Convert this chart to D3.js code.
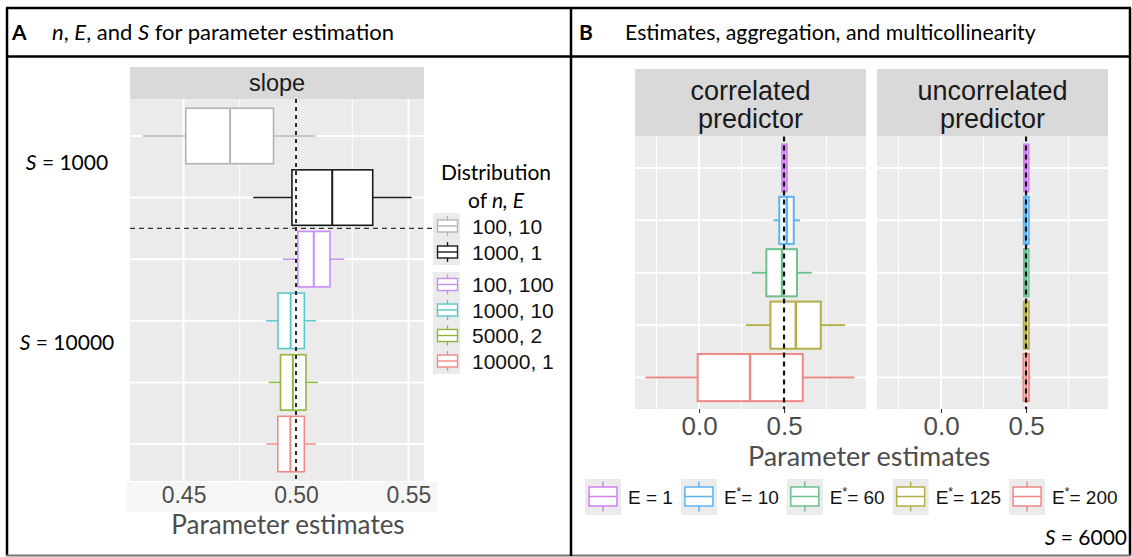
<!DOCTYPE html>
<html>
<head>
<meta charset="utf-8">
<script src="https://cdn.jsdelivr.net/npm/d3@7"></script>
<style>
  body { margin: 0; background: #fff; }
  svg { display: block; }
</style>
</head>
<body>
<svg id="fig" width="1132" height="557"></svg>
<script>
// ---- panel A: slope estimates by distribution of n, E ----
const catsA = ["100, 10", "1000, 1", "100, 100", "1000, 10", "5000, 2", "10000, 1"];
const colorsA = ["#b4b4b4", "#1a1a1a", "#c98cf6", "#5cc5cc", "#8db83c", "#ef8c85"];
const lowA  = [0.432, 0.481, 0.4942, 0.4867, 0.4879, 0.4868];
const q1A   = [0.451, 0.4982, 0.5008, 0.4920, 0.4931, 0.4919];
const medA  = [0.4707, 0.5161, 0.5079, 0.4976, 0.4986, 0.4975];
const q3A   = [0.490, 0.5341, 0.5151, 0.5037, 0.5044, 0.5037];
const highA = [0.5088, 0.5514, 0.5214, 0.5090, 0.5097, 0.5088];
const ticksA = [0.45, 0.50, 0.55];
const minorA = [0.475, 0.525];

// ---- panel B: estimates for correlated / uncorrelated predictor ----
const catsB = ["1", "10", "60", "125", "200"];   // E values
const colorsB = ["#d27ff2", "#5cb3ef", "#6fc08e", "#b3ae48", "#ec8983"];
const corrLow  = [0.485, 0.437, 0.310, 0.275, -0.314];
const corrQ1   = [0.489, 0.472, 0.396, 0.420, -0.008];
const corrMed  = [0.502, 0.516, 0.488, 0.569, 0.300];
const corrQ3   = [0.516, 0.557, 0.576, 0.716, 0.610];
const corrHigh = [0.522, 0.594, 0.663, 0.859, 0.914];
const uncLow   = [0.482, 0.480, 0.481, 0.480, 0.474];
const uncQ1    = [0.488, 0.487, 0.488, 0.487, 0.485];
const uncMed   = [0.501, 0.500, 0.500, 0.500, 0.500];
const uncQ3    = [0.515, 0.516, 0.515, 0.516, 0.517];
const uncHigh  = [0.521, 0.522, 0.521, 0.522, 0.527];
const ticksB = [0.0, 0.5];
const minorB = [-0.25, 0.25, 0.75];

const svg = d3.select("#fig");
const RSANS = "'Liberation Sans', Arial, sans-serif";
const CAL = "Lato, 'Open Sans', sans-serif";

svg.append("rect").attr("width", 1132).attr("height", 557).attr("fill", "#fff");

function rows(low, q1, med, q3, high, colors) {
  return low.map((d, i) => ({ i, lo: d, q1: q1[i], med: med[i], q3: q3[i], hi: high[i], col: colors[i] }));
}

function panel(g, x, y, box, data, minor, major, sw, dash) {
  const [x0, x1] = x.range();
  const [y0, y1] = y.range();
  g.append("rect").attr("x", x0).attr("y", y0).attr("width", x1 - x0).attr("height", y1 - y0).attr("fill", "#ebebeb");
  g.selectAll(".gmin").data(minor).join("line")
    .attr("x1", d => x(d)).attr("x2", d => x(d)).attr("y1", y0).attr("y2", y1)
    .attr("stroke", "#fff").attr("stroke-width", 1);
  g.selectAll(".gmaj").data(major).join("line")
    .attr("x1", d => x(d)).attr("x2", d => x(d)).attr("y1", y0).attr("y2", y1)
    .attr("stroke", "#fff").attr("stroke-width", 2);
  g.selectAll(".gh").data(data).join("line")
    .attr("x1", x0).attr("x2", x1).attr("y1", d => box.cy(d.i)).attr("y2", d => box.cy(d.i))
    .attr("stroke", "#fff").attr("stroke-width", 2);

  const b = g.selectAll(".box").data(data).join("g");
  b.append("line").attr("x1", d => x(d.lo)).attr("x2", d => x(d.q1))
    .attr("y1", d => box.cy(d.i)).attr("y2", d => box.cy(d.i))
    .attr("stroke", d => d.col).attr("stroke-width", sw);
  b.append("line").attr("x1", d => x(d.q3)).attr("x2", d => x(d.hi))
    .attr("y1", d => box.cy(d.i)).attr("y2", d => box.cy(d.i))
    .attr("stroke", d => d.col).attr("stroke-width", sw);
  b.append("rect").attr("x", d => x(d.q1)).attr("width", d => x(d.q3) - x(d.q1))
    .attr("y", d => box.cy(d.i) - box.h / 2).attr("height", box.h)
    .attr("fill", "#fff").attr("stroke", d => d.col).attr("stroke-width", sw + 0.1);
  b.append("line").attr("x1", d => x(d.med)).attr("x2", d => x(d.med))
    .attr("y1", d => box.cy(d.i) - box.h / 2).attr("y2", d => box.cy(d.i) + box.h / 2)
    .attr("stroke", d => d.col).attr("stroke-width", sw + 0.5);

  g.append("line").attr("x1", x(0.5)).attr("x2", x(0.5)).attr("y1", y0).attr("y2", y1)
    .attr("stroke", "#111").attr("stroke-width", dash[0]).attr("stroke-dasharray", dash[1]);
}

// ---------------- frame ----------------
const frame = svg.append("g").attr("stroke", "#000").attr("fill", "none");
frame.append("line").attr("x1", 6).attr("x2", 1131).attr("y1", 8).attr("y2", 8).attr("stroke-width", 2.5);
frame.append("line").attr("x1", 7).attr("x2", 7).attr("y1", 8).attr("y2", 556).attr("stroke-width", 2.5);
frame.append("line").attr("x1", 1130).attr("x2", 1130).attr("y1", 8).attr("y2", 556).attr("stroke-width", 2.5);
frame.append("line").attr("x1", 6).attr("x2", 1131).attr("y1", 555.5).attr("y2", 555.5).attr("stroke", "#777").attr("stroke-width", 2);
frame.append("line").attr("x1", 6).attr("x2", 1131).attr("y1", 56.5).attr("y2", 56.5).attr("stroke-width", 2.5);
frame.append("line").attr("x1", 571).attr("x2", 571).attr("y1", 8).attr("y2", 556).attr("stroke-width", 2.5);

// headers
svg.append("text").attr("x", 12).attr("y", 40).attr("font-family", CAL).attr("font-size", 21)
  .attr("font-weight", "bold").text("A");
const tA = svg.append("text").attr("x", 52).attr("y", 40).attr("font-family", CAL).attr("font-size", 22).attr("fill", "#000");
tA.append("tspan").attr("font-style", "italic").text("n");
tA.append("tspan").text(", ");
tA.append("tspan").attr("font-style", "italic").text("E");
tA.append("tspan").text(", and ");
tA.append("tspan").attr("font-style", "italic").text("S");
tA.append("tspan").text(" for parameter estimation");

svg.append("text").attr("x", 579).attr("y", 40).attr("font-family", CAL).attr("font-size", 21)
  .attr("font-weight", "bold").text("B");
svg.append("text").attr("x", 625).attr("y", 40).attr("font-family", CAL).attr("font-size", 21.3)
  .text("Estimates, aggregation, and multicollinearity");

// ---------------- panel A ----------------
const xA = d3.scaleLinear().domain([0.4262, 0.5569]).range([130, 424]);
const yA = d3.scalePoint().domain(d3.range(catsA.length)).range([99, 481]).padding(0.6);
const gA = svg.append("g");

// faint axis band under panel A
gA.append("rect").attr("x", 126).attr("y", 482).attr("width", 311).attr("height", 30).attr("fill", "#f6f6f6");
// strip
gA.append("rect").attr("x", 130).attr("y", 67).attr("width", 294).attr("height", 32).attr("fill", "#d9d9d9");
gA.append("text").attr("x", 277).attr("y", 91).attr("text-anchor", "middle")
  .attr("font-family", RSANS).attr("font-size", 23.5).attr("fill", "#1a1a1a").text("slope");

panel(gA, xA, yA, { cy: i => yA(i), h: 0.9 * yA.step() },
  rows(lowA, q1A, medA, q3A, highA, colorsA), minorA, ticksA, 1.5, [1.8, "4,4"]);

// separator between S = 1000 and S = 10000
const sepY = (yA(1) + yA(2)) / 2;
gA.append("line").attr("x1", 130).attr("x2", 432).attr("y1", sepY).attr("y2", sepY)
  .attr("stroke", "#333").attr("stroke-width", 1.4).attr("stroke-dasharray", "5,4");

const axA = gA.append("g").attr("transform", "translate(0,481)")
  .call(d3.axisBottom(xA).tickValues(ticksA).tickFormat(d3.format(".2f")).tickSize(0).tickPadding(6));
axA.select(".domain").remove();
axA.selectAll("text").attr("font-family", RSANS).attr("font-size", 23).attr("fill", "#4d4d4d");

gA.append("text").attr("x", 288).attr("y", 534).attr("text-anchor", "middle")
  .attr("font-family", CAL).attr("font-size", 26).attr("fill", "#4d4d4d").text("Parameter estimates");

// S labels
[["1000", 169.5], ["10000", 349.5]].forEach(([s, yy]) => {
  const t = svg.append("text").attr("x", 67).attr("y", yy).attr("text-anchor", "middle")
    .attr("font-family", CAL).attr("font-size", 21).attr("fill", "#000");
  t.append("tspan").attr("font-style", "italic").text("S");
  t.append("tspan").text(" = " + s);
});

// legend A
const lgA = svg.append("g");
lgA.append("text").attr("x", 496).attr("y", 179.5).attr("text-anchor", "middle")
  .attr("font-family", CAL).attr("font-size", 21).text("Distribution");
const ofT = lgA.append("text").attr("x", 496).attr("y", 207.5).attr("text-anchor", "middle")
  .attr("font-family", CAL).attr("font-size", 21);
ofT.append("tspan").text("of ");
ofT.append("tspan").attr("font-style", "italic").text("n, E");

const keyRowsA = [226, 252, 284.5, 310, 335.5, 361];
lgA.append("rect").attr("x", 433).attr("y", 213).attr("width", 27).attr("height", 52).attr("fill", "#ebebeb");
lgA.append("rect").attr("x", 433).attr("y", 272).attr("width", 27).attr("height", 102).attr("fill", "#ebebeb");
const kA = lgA.selectAll(".k").data(catsA).join("g")
  .attr("transform", (d, i) => `translate(447.5,${keyRowsA[i]})`);
kA.append("line").attr("y1", -10).attr("y2", 10).attr("stroke", (d, i) => colorsA[i]).attr("stroke-width", 1.4);
kA.append("rect").attr("x", -10).attr("y", -6).attr("width", 20).attr("height", 12)
  .attr("fill", "#fff").attr("stroke", (d, i) => colorsA[i]).attr("stroke-width", 1.4);
kA.append("line").attr("x1", -10).attr("x2", 10).attr("stroke", (d, i) => colorsA[i]).attr("stroke-width", 1.4);
kA.append("text").attr("x", 24.5).attr("y", 7.5).attr("font-family", RSANS).attr("font-size", 21)
  .attr("fill", "#111").text(d => d);

// ---------------- panel B ----------------
const facets = [
  { name: ["correlated", "predictor"], x0: 635, data: rows(corrLow, corrQ1, corrMed, corrQ3, corrHigh, colorsB) },
  { name: ["uncorrelated", "predictor"], x0: 877, data: rows(uncLow, uncQ1, uncMed, uncQ3, uncHigh, colorsB) }
];
const yB = d3.scalePoint().domain(d3.range(catsB.length)).range([136.5, 409]).padding(0.6);

facets.forEach(f => {
  const x = d3.scaleLinear().domain([-0.3765, 0.982]).range([f.x0, f.x0 + 231]);
  const g = svg.append("g");
  g.append("rect").attr("x", f.x0).attr("y", 69).attr("width", 231).attr("height", 67.5).attr("fill", "#d9d9d9");
  g.append("text").attr("x", f.x0 + 115.5).attr("y", 99.5).attr("text-anchor", "middle")
    .attr("font-family", RSANS).attr("font-size", 27).attr("fill", "#1a1a1a").text(f.name[0]);
  g.append("text").attr("x", f.x0 + 115.5).attr("y", 127.5).attr("text-anchor", "middle")
    .attr("font-family", RSANS).attr("font-size", 27).attr("fill", "#1a1a1a").text(f.name[1]);

  panel(g, x, yB, { cy: i => yB(i), h: 0.9 * yB.step() }, f.data, minorB, ticksB, 1.9, [2.2, "5,4"]);

  const ax = g.append("g").attr("transform", "translate(0,409)")
    .call(d3.axisBottom(x).tickValues(ticksB).tickFormat(d3.format(".1f")).tickSize(4).tickPadding(4));
  ax.select(".domain").remove();
  ax.selectAll("line").attr("stroke", "#333").attr("stroke-width", 1.1);
  ax.selectAll("text").attr("font-family", RSANS).attr("font-size", 26).attr("fill", "#4d4d4d");
});

svg.append("text").attr("x", 869).attr("y", 466).attr("text-anchor", "middle")
  .attr("font-family", CAL).attr("font-size", 27).attr("fill", "#4d4d4d").text("Parameter estimates");

// legend B
const lgB = svg.append("g");
let lx = 585;
catsB.forEach((c, i) => {
  lgB.append("rect").attr("x", lx).attr("y", 479).attr("width", 36).attr("height", 36).attr("fill", "#ebebeb");
  const k = lgB.append("g").attr("transform", `translate(${lx + 18},496.5)`);
  k.append("line").attr("y1", -15).attr("y2", 15).attr("stroke", colorsB[i]).attr("stroke-width", 1.5);
  k.append("rect").attr("x", -14).attr("y", -9.5).attr("width", 28).attr("height", 19)
    .attr("fill", "#fff").attr("stroke", colorsB[i]).attr("stroke-width", 1.5);
  k.append("line").attr("x1", -14).attr("x2", 14).attr("stroke", colorsB[i]).attr("stroke-width", 1.5);
  const t = lgB.append("text").attr("x", lx + 43).attr("y", 503.5)
    .attr("font-family", RSANS).attr("font-size", 19).attr("fill", "#111");
  if (i === 0) {
    t.text("E = " + c);
  } else {
    t.append("tspan").text("E");
    t.append("tspan").attr("dy", -8).attr("font-size", 12).text("*");
    t.append("tspan").attr("dy", 8).text("= " + c);
  }
  lx = lx + 43 + t.node().getComputedTextLength() + 8;
});

const sT = svg.append("text").attr("x", 1127).attr("y", 545).attr("text-anchor", "end")
  .attr("font-family", CAL).attr("font-size", 21).attr("fill", "#000");
sT.append("tspan").attr("font-style", "italic").text("S");
sT.append("tspan").text(" = 6000");
</script>
</body>
</html>
